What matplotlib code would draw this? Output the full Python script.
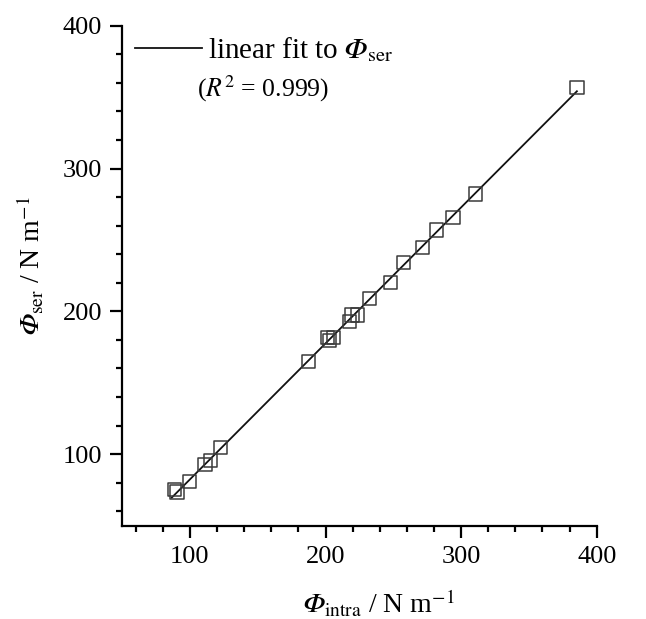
import numpy as np
import matplotlib
matplotlib.use('Agg')
import matplotlib.pyplot as plt
from matplotlib.ticker import MultipleLocator

plt.rcParams['font.family'] = 'serif'
plt.rcParams['font.serif'] = ['Liberation Serif', 'DejaVu Serif']
plt.rcParams['mathtext.fontset'] = 'stix'

# values
phi_intra = [88.6, 90.5, 99.8, 111.1, 115.0, 122.8, 187.5, 201.2, 203.2, 205.8,
             217.6, 219.6, 223.8, 232.3, 247.7, 257.6, 271.7, 282.0, 294.0, 310.7, 385.4]
phi_ser = [75.4, 73.5, 80.7, 92.9, 95.4, 104.8, 164.7, 181.8, 179.4, 181.5,
           192.7, 197.4, 197.4, 209.1, 220.3, 234.3, 244.8, 256.9, 265.8, 282.2, 356.9]

PHI = '\U0001D6F7'  # mathematical italic capital phi
fit_label = 'linear fit to $' + PHI + r'_{\mathrm{ser}}$'
r2_label = r'($\mathit{R}^2$ = 0.999)'
xlab = '$' + PHI + r'_{\mathrm{intra}}$ / N m$^{-1}$'
ylab = '$' + PHI + r'_{\mathrm{ser}}$ / N m$^{-1}$'

fig = plt.figure(figsize=(6.46, 6.19), dpi=100)
ax = fig.add_axes([0.189, 0.151, 0.7347, 0.8075])

x = np.array(phi_intra)
y = np.array(phi_ser)
k, b = np.polyfit(x, y, 1)
xs = np.array([x.min() - 2, x.max()])
ax.plot(xs, k * xs + b, color='#111111', lw=1.3, label=fit_label, zorder=2)
ax.scatter(x, y, marker='s', s=90, facecolors='none', edgecolors='#3a3a3a',
           linewidths=1.1, zorder=3)

ax.set_xlim(50, 400)
ax.set_ylim(50, 400)
ax.xaxis.set_major_locator(MultipleLocator(100))
ax.xaxis.set_minor_locator(MultipleLocator(20))
ax.yaxis.set_major_locator(MultipleLocator(100))
ax.yaxis.set_minor_locator(MultipleLocator(20))

for s in ['top', 'right']:
    ax.spines[s].set_visible(False)
for s in ['left', 'bottom']:
    ax.spines[s].set_linewidth(1.6)
ax.tick_params(which='major', direction='out', length=8.5, width=1.6, labelsize=19, pad=6)
ax.tick_params(which='minor', direction='out', length=4.6, width=1.6)

ax.set_xlabel(xlab, fontsize=20)
ax.set_ylabel(ylab, fontsize=20)
ax.xaxis.set_label_coords(0.54, -0.125)
ax.yaxis.set_label_coords(-0.16, 0.52)

ax.legend(loc='upper left', bbox_to_anchor=(-0.015, 1.022), frameon=False, fontsize=21,
          handlelength=2.3, handletextpad=0.2, borderaxespad=0.3)
ax.text(0.158, 0.873, r2_label, transform=ax.transAxes, fontsize=18.5, va='center', ha='left')

fig.savefig('out.png', dpi=100)
